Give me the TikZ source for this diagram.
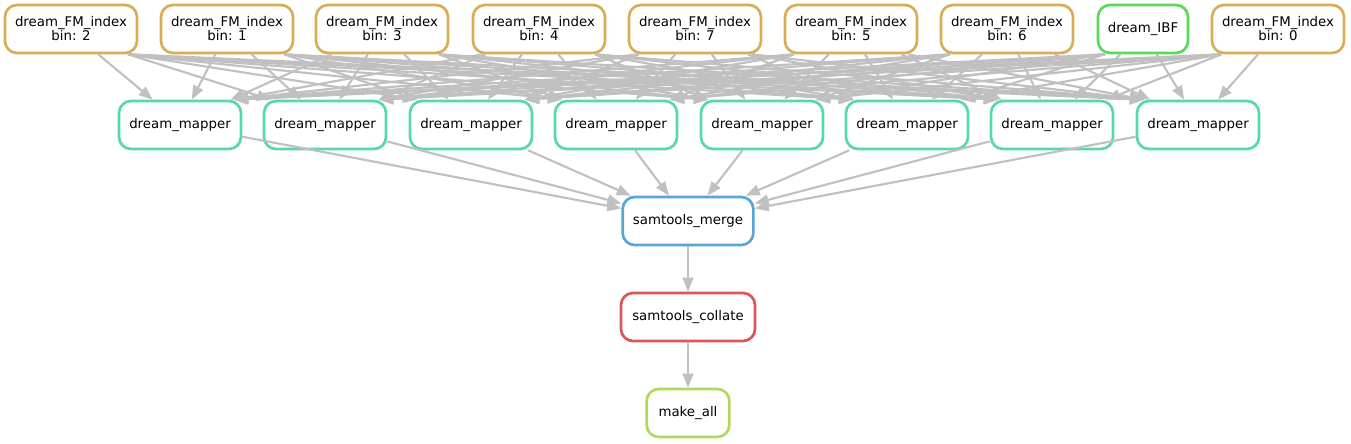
\documentclass[tikz,border=0pt]{standalone}
\usepackage{fontspec}
\setmainfont{DejaVu Sans}
\usetikzlibrary{arrows.meta,calc}
\definecolor{fmcol}{RGB}{217,173,87}
\definecolor{ibfcol}{RGB}{89,217,87}
\definecolor{mapcol}{RGB}{87,217,167}
\definecolor{mergecol}{RGB}{87,165,217}
\definecolor{collcol}{RGB}{217,87,87}
\definecolor{allcol}{RGB}{176,217,87}
\definecolor{edgegray}{RGB}{192,192,192}
\begin{document}
\begin{tikzpicture}[x=0.75pt,y=-0.75pt,
  rule/.style={draw=#1, line width=2pt, rounded corners=9pt, minimum height=36pt,
    inner sep=0pt, align=center, font=\fontsize{10}{10.5}\selectfont},
  edge/.style={draw=edgegray, line width=1.6pt, -{Triangle[length=10.5pt,width=8pt]}}]
\useasboundingbox (0,0) rectangle (1351,443);
% top row
\node[rule=fmcol, minimum width=99pt] (f2) at (71,29) {dream\_FM\_index\\bin: 2};
\node[rule=fmcol, minimum width=99pt] (f1) at (227,29) {dream\_FM\_index\\bin: 1};
\node[rule=fmcol, minimum width=99pt] (f3) at (382,29) {dream\_FM\_index\\bin: 3};
\node[rule=fmcol, minimum width=99pt] (f4) at (539,29) {dream\_FM\_index\\bin: 4};
\node[rule=fmcol, minimum width=99pt] (f7) at (695,29) {dream\_FM\_index\\bin: 7};
\node[rule=fmcol, minimum width=99pt] (f5) at (851,29) {dream\_FM\_index\\bin: 5};
\node[rule=fmcol, minimum width=99pt] (f6) at (1007,29) {dream\_FM\_index\\bin: 6};
\node[rule=ibfcol, minimum width=67.5pt] (ibf) at (1143,29) {dream\_IBF};
\node[rule=fmcol, minimum width=99pt] (f0) at (1278,29) {dream\_FM\_index\\bin: 0};
% mappers
\foreach \i/\x in {1/180,2/325,3/471,4/616,5/762,6/907,7/1052,8/1198}
  \node[rule=mapcol, minimum width=91.5pt] (m\i) at (\x,125) {dream\_mapper};
% lower chain
\node[rule=mergecol, minimum width=98pt] (merge) at (688,221) {samtools\_merge};
\node[rule=collcol, minimum width=100.5pt] (collate) at (688,317) {samtools\_collate};
\node[rule=allcol, minimum width=62pt] (all) at (688,413) {make\_all};
% edges: top row -> mappers
\foreach \s/\sx/\lim in {f2/71/57,f1/227/57,f3/382/57,f4/539/57,f7/695/57,f5/851/57,f6/1007/57,ibf/1143/38,f0/1278/57}
  \foreach \i/\tx in {1/180,2/325,3/471,4/616,5/762,6/907,7/1052,8/1198}{
    \pgfmathsetmacro\so{max(-\lim,min(\lim,(\tx-\sx)*0.25))}
    \pgfmathsetmacro\eo{max(-54,min(54,(\sx-\tx)*0.25))}
    \draw[edge] ($(\s.south)+(\so,0)$) -- ($(m\i.north)+(\eo,0)$);
  }
% mappers -> merge
\foreach \i in {1,...,8}
  \draw[edge] (m\i) -- (merge);
\draw[edge] (merge) -- (collate);
\draw[edge] (collate) -- (all);
\end{tikzpicture}
\end{document}
